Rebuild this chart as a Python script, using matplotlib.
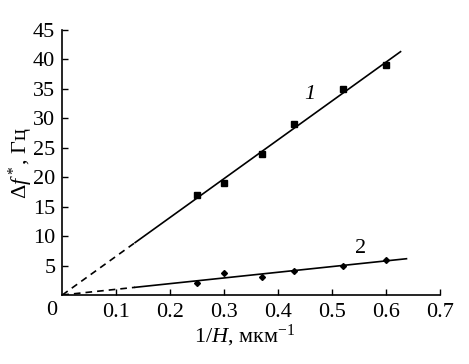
import numpy as np
import matplotlib.pyplot as plt

plt.rcParams['font.family'] = ['Liberation Serif', 'DejaVu Serif']
plt.rcParams['mathtext.fontset'] = 'custom'
plt.rcParams['mathtext.rm'] = 'Liberation Serif'
plt.rcParams['mathtext.it'] = 'Liberation Serif:italic'

# data
x_pts = [0.25, 0.30, 0.37, 0.43, 0.52, 0.60]
y1 = [17.0, 19.0, 24.0, 29.0, 35.0, 39.0]
y2 = [2.0, 3.7, 3.0, 4.0, 5.0, 6.0]

# linear fits through origin (slopes)
k1 = 65.9
k2 = 9.65
x_dash_end = 0.135
x1_end = 0.627
x2_end = 0.638

fs = 16

fig = plt.figure(figsize=(4.69, 3.64), dpi=100)
ax = fig.add_axes([0.1328, 0.1896, 0.938 - 0.1328, 0.9176 - 0.1896])

xd = np.array([0.0, x_dash_end])
xs1 = np.array([x_dash_end, x1_end])
xs2 = np.array([x_dash_end, x2_end])

ax.plot(xd, k1 * xd, 'k--', lw=1.2, dashes=(4, 3))
ax.plot(xs1, k1 * xs1, 'k-', lw=1.2)
ax.plot(xd, k2 * xd, 'k--', lw=1.2, dashes=(4, 3))
ax.plot(xs2, k2 * xs2, 'k-', lw=1.2)

ax.plot(x_pts, y1, 'ks', ms=4, ls='none')
ax.plot(x_pts, y2, 'kD', ms=3, ls='none')

ax.text(0.459, 34.0, '1', fontsize=fs, style='italic', ha='center', va='center')
ax.text(0.553, 7.9, '2', fontsize=fs, ha='center', va='center')

ax.set_xlim(0, 0.7)
ax.set_ylim(0, 45)
ax.set_xticks([0.1, 0.2, 0.3, 0.4, 0.5, 0.6, 0.7])
ax.set_xticklabels(['0.1', '0.2', '0.3', '0.4', '0.5', '0.6', '0.7'])
ax.set_yticks([5, 10, 15, 20, 25, 30, 35, 40, 45])
ax.tick_params(direction='in', length=4.5, width=1, labelsize=fs, pad=5)
ax.tick_params(axis='x', pad=6)
ax.annotate('0', xy=(0, 0), xytext=(-7.5, -4.5), textcoords='offset points',
            fontsize=fs, ha='center', va='top')

for s in ['top', 'right']:
    ax.spines[s].set_visible(False)
for s in ['left', 'bottom']:
    ax.spines[s].set_linewidth(1.2)

ax.set_xlabel(r'$1/H$, мкм$^{-1}$', fontsize=fs)
ax.set_ylabel(r'$\Delta f^*$, Гц', fontsize=fs)
ax.xaxis.set_label_coords(0.484, -0.105)
ax.yaxis.set_label_coords(-0.072, 0.5)

fig.savefig('out.png', dpi=100)
